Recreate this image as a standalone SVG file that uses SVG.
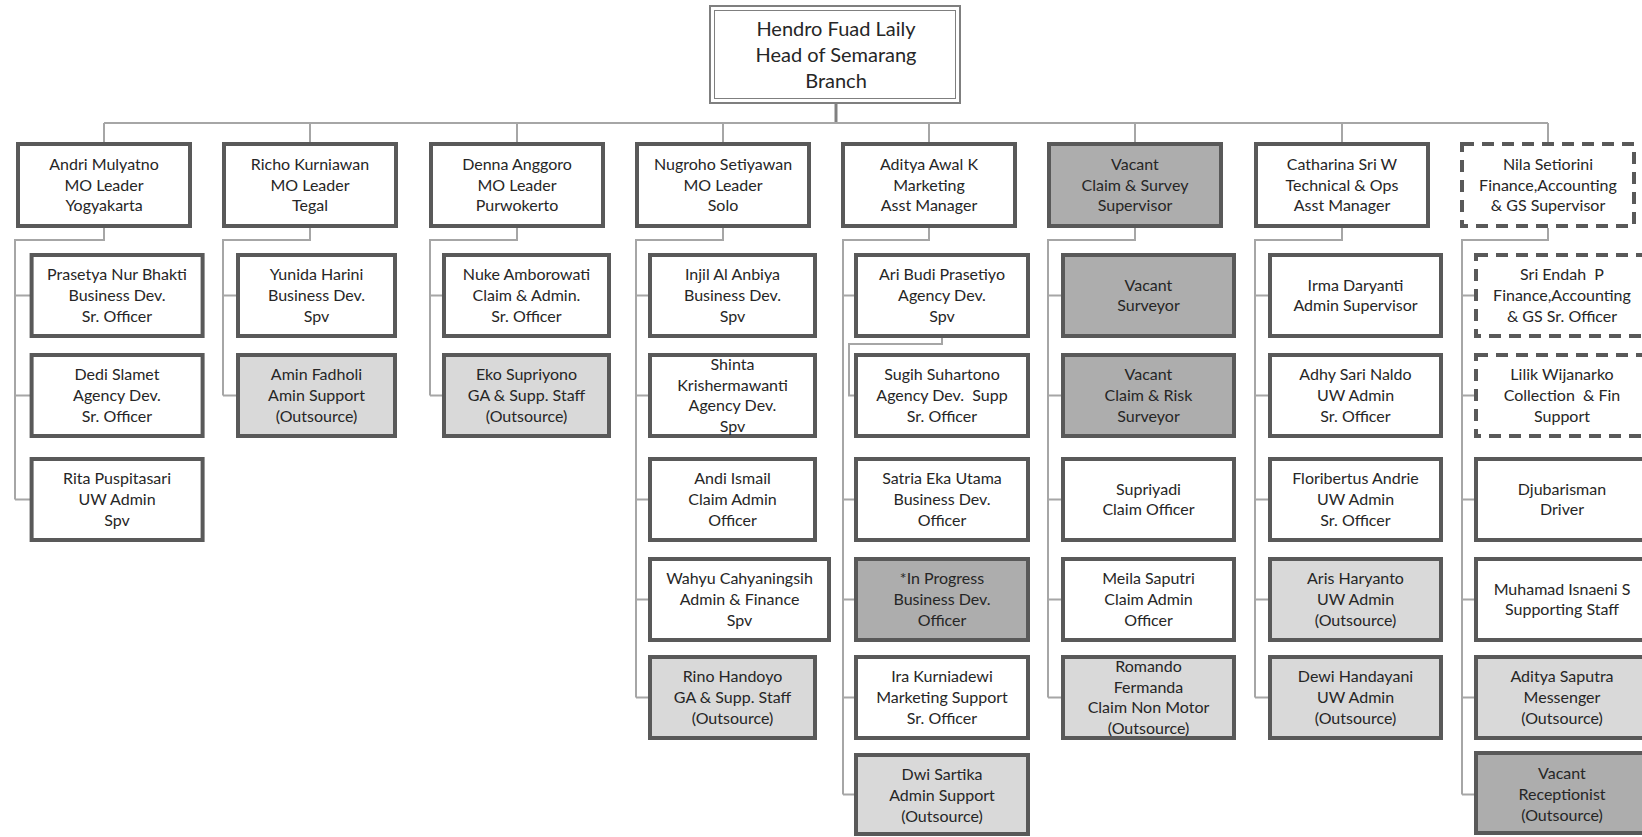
<svg xmlns="http://www.w3.org/2000/svg" width="1642" height="837" viewBox="0 0 1642 837">
<style>
.bx{fill:#ffffff;stroke:#595959;stroke-width:4}
.lt{fill:#d9d9d9;stroke:#595959;stroke-width:4}
.dk{fill:#adadad;stroke:#595959;stroke-width:4}
.ds{fill:#ffffff;stroke:#595959;stroke-width:4;stroke-dasharray:12 8}
.t{font-family:Lato,"Liberation Sans",sans-serif;font-size:16px;fill:#262626;text-anchor:middle;white-space:pre}
.h{font-family:Lato,"Liberation Sans",sans-serif;font-size:20px;fill:#262626;text-anchor:middle}
.cn{fill:none;stroke:#a6a6a6;stroke-width:2}
.st{fill:none;stroke:#808080;stroke-width:3}
</style>
<rect width="1642" height="837" fill="#ffffff"/>
<g id="connectors">
<path class="st" d="M836,104 V123"/>
<path class="cn" d="M104,123 H1548 M104,123 V142 M310,123 V142 M517,123 V142 M723,123 V142 M929,123 V142 M1135,123 V142 M1342,123 V142 M1548,123 V142"/>
<path class="cn" d="M104,228 V240 H15 V499.5 M15,295.5 H30 M15,395.5 H30 M15,499.5 H30"/>
<path class="cn" d="M310,228 V240 H223 V395.5 M223,295.5 H236 M223,395.5 H236"/>
<path class="cn" d="M517,228 V240 H430 V395.5 M430,295.5 H442 M430,395.5 H442"/>
<path class="cn" d="M723,228 V240 H636 V697.5 M636,295.5 H648 M636,395.5 H648 M636,499.5 H648 M636,599.5 H648 M636,697.5 H648"/>
<path class="cn" d="M929,228 V240 H843 V794.5 M843,295.5 H854 M843,499.5 H854 M843,599.5 H854 M843,697.5 H854 M843,794.5 H854"/>
<path class="cn" d="M942,338 V344 H849 V395.5 H854"/>
<path class="cn" d="M1135,228 V240 H1048 V697.5 M1048,295.5 H1061 M1048,395.5 H1061 M1048,499.5 H1061 M1048,599.5 H1061 M1048,697.5 H1061"/>
<path class="cn" d="M1342,228 V240 H1255 V697.5 M1255,295.5 H1268 M1255,395.5 H1268 M1255,499.5 H1268 M1255,599.5 H1268 M1255,697.5 H1268"/>
<path class="cn" d="M1548,228 V240 H1462 V794.5 M1462,295.5 H1474 M1462,395.5 H1474 M1462,499.5 H1474 M1462,599.5 H1474 M1462,697.5 H1474 M1462,794.5 H1474"/>
</g>
<g id="head">
<rect x="710" y="6" width="250" height="97" fill="#ffffff" stroke="#7f7f7f" stroke-width="2"/>
<rect x="714.5" y="10.5" width="241" height="88" fill="none" stroke="#7f7f7f" stroke-width="1"/>
<text class="h" x="836" y="36">Hendro Fuad Laily</text>
<text class="h" x="836" y="62">Head of Semarang</text>
<text class="h" x="836" y="88">Branch</text>
</g>
<g id="andri"><rect class="bx" x="18" y="144" width="172" height="82"/><text class="t" x="104" y="169.9">Andri Mulyatno</text><text class="t" x="104" y="190.5">MO Leader</text><text class="t" x="104" y="211.1">Yogyakarta</text></g>
<g id="richo"><rect class="bx" x="224" y="144" width="172" height="82"/><text class="t" x="310" y="169.9">Richo Kurniawan</text><text class="t" x="310" y="190.5">MO Leader</text><text class="t" x="310" y="211.1">Tegal</text></g>
<g id="denna"><rect class="bx" x="431" y="144" width="172" height="82"/><text class="t" x="517" y="169.9">Denna Anggoro</text><text class="t" x="517" y="190.5">MO Leader</text><text class="t" x="517" y="211.1">Purwokerto</text></g>
<g id="nugroho"><rect class="bx" x="637" y="144" width="172" height="82"/><text class="t" x="723" y="169.9">Nugroho Setiyawan</text><text class="t" x="723" y="190.5">MO Leader</text><text class="t" x="723" y="211.1">Solo</text></g>
<g id="aditya-awal"><rect class="bx" x="843" y="144" width="172" height="82"/><text class="t" x="929" y="169.9">Aditya Awal K</text><text class="t" x="929" y="190.5">Marketing</text><text class="t" x="929" y="211.1">Asst Manager</text></g>
<g id="vacant-claim-survey"><rect class="dk" x="1049" y="144" width="172" height="82"/><text class="t" x="1135" y="169.9">Vacant</text><text class="t" x="1135" y="190.5">Claim &amp; Survey</text><text class="t" x="1135" y="211.1">Supervisor</text></g>
<g id="catharina"><rect class="bx" x="1256" y="144" width="172" height="82"/><text class="t" x="1342" y="169.9">Catharina Sri W</text><text class="t" x="1342" y="190.5">Technical &amp; Ops</text><text class="t" x="1342" y="211.1">Asst Manager</text></g>
<g id="nila"><rect class="ds" x="1462" y="144" width="172" height="82"/><text class="t" x="1548" y="169.9">Nila Setiorini</text><text class="t" x="1548" y="190.5">Finance,Accounting</text><text class="t" x="1548" y="211.1">&amp; GS Supervisor</text></g>

<g id="prasetya"><rect class="bx" x="31.6" y="255" width="171" height="81"/><text class="t" x="117" y="280.4">Prasetya Nur Bhakti</text><text class="t" x="117" y="301">Business Dev.</text><text class="t" x="117" y="321.6">Sr. Officer</text></g>
<g id="dedi"><rect class="bx" x="31.6" y="355" width="171" height="81"/><text class="t" x="117" y="380.4">Dedi Slamet</text><text class="t" x="117" y="401">Agency Dev.</text><text class="t" x="117" y="421.6">Sr. Officer</text></g>
<g id="rita"><rect class="bx" x="31.6" y="459" width="171" height="81"/><text class="t" x="117" y="484.4">Rita Puspitasari</text><text class="t" x="117" y="505">UW Admin</text><text class="t" x="117" y="525.6">Spv</text></g>

<g id="yunida"><rect class="bx" x="238" y="255" width="157" height="81"/><text class="t" x="316.5" y="280.4">Yunida Harini</text><text class="t" x="316.5" y="301">Business Dev.</text><text class="t" x="316.5" y="321.6">Spv</text></g>
<g id="amin"><rect class="lt" x="238" y="355" width="157" height="81"/><text class="t" x="316.5" y="380.4">Amin Fadholi</text><text class="t" x="316.5" y="401">Amin Support</text><text class="t" x="316.5" y="421.6">(Outsource)</text></g>

<g id="nuke"><rect class="bx" x="444" y="255" width="165" height="81"/><text class="t" x="526.5" y="280.4">Nuke Amborowati</text><text class="t" x="526.5" y="301">Claim &amp; Admin.</text><text class="t" x="526.5" y="321.6">Sr. Officer</text></g>
<g id="eko"><rect class="lt" x="444" y="355" width="165" height="81"/><text class="t" x="526.5" y="380.4">Eko Supriyono</text><text class="t" x="526.5" y="401">GA &amp; Supp. Staff</text><text class="t" x="526.5" y="421.6">(Outsource)</text></g>

<g id="injil"><rect class="bx" x="650" y="255" width="165" height="81"/><text class="t" x="732.5" y="280.4">Injil Al Anbiya</text><text class="t" x="732.5" y="301">Business Dev.</text><text class="t" x="732.5" y="321.6">Spv</text></g>
<g id="shinta"><rect class="bx" x="650" y="355" width="165" height="81"/><text class="t" x="732.5" y="370.1">Shinta</text><text class="t" x="732.5" y="390.7">Krishermawanti</text><text class="t" x="732.5" y="411.3">Agency Dev.</text><text class="t" x="732.5" y="431.9">Spv</text></g>
<g id="andi"><rect class="bx" x="650" y="459" width="165" height="81"/><text class="t" x="732.5" y="484.4">Andi Ismail</text><text class="t" x="732.5" y="505">Claim Admin</text><text class="t" x="732.5" y="525.6">Officer</text></g>
<g id="wahyu"><rect class="bx" x="650" y="559" width="179" height="81"/><text class="t" x="739.5" y="584.4">Wahyu Cahyaningsih</text><text class="t" x="739.5" y="605">Admin &amp; Finance</text><text class="t" x="739.5" y="625.6">Spv</text></g>
<g id="rino"><rect class="lt" x="650" y="657" width="165" height="81"/><text class="t" x="732.5" y="682.4">Rino Handoyo</text><text class="t" x="732.5" y="703">GA &amp; Supp. Staff</text><text class="t" x="732.5" y="723.6">(Outsource)</text></g>

<g id="ari"><rect class="bx" x="856" y="255" width="172" height="81"/><text class="t" x="942" y="280.4">Ari Budi Prasetiyo</text><text class="t" x="942" y="301">Agency Dev.</text><text class="t" x="942" y="321.6">Spv</text></g>
<g id="sugih"><rect class="bx" x="856" y="355" width="172" height="81"/><text class="t" x="942" y="380.4">Sugih Suhartono</text><text class="t" x="942" y="401">Agency Dev.  Supp</text><text class="t" x="942" y="421.6">Sr. Officer</text></g>
<g id="satria"><rect class="bx" x="856" y="459" width="172" height="81"/><text class="t" x="942" y="484.4">Satria Eka Utama</text><text class="t" x="942" y="505">Business Dev.</text><text class="t" x="942" y="525.6">Officer</text></g>
<g id="in-progress"><rect class="dk" x="856" y="559" width="172" height="81"/><text class="t" x="942" y="584.4">*In Progress</text><text class="t" x="942" y="605">Business Dev.</text><text class="t" x="942" y="625.6">Officer</text></g>
<g id="ira"><rect class="bx" x="856" y="657" width="172" height="81"/><text class="t" x="942" y="682.4">Ira Kurniadewi</text><text class="t" x="942" y="703">Marketing Support</text><text class="t" x="942" y="723.6">Sr. Officer</text></g>
<g id="dwi"><rect class="lt" x="856" y="755" width="172" height="79"/><text class="t" x="942" y="780.4">Dwi Sartika</text><text class="t" x="942" y="801">Admin Support</text><text class="t" x="942" y="821.6">(Outsource)</text></g>

<g id="vacant-surveyor"><rect class="dk" x="1063" y="255" width="171" height="81"/><text class="t" x="1148.5" y="290.7">Vacant</text><text class="t" x="1148.5" y="311.3">Surveyor</text></g>
<g id="vacant-claim-risk"><rect class="dk" x="1063" y="355" width="171" height="81"/><text class="t" x="1148.5" y="380.4">Vacant</text><text class="t" x="1148.5" y="401">Claim &amp; Risk</text><text class="t" x="1148.5" y="421.6">Surveyor</text></g>
<g id="supriyadi"><rect class="bx" x="1063" y="459" width="171" height="81"/><text class="t" x="1148.5" y="494.7">Supriyadi</text><text class="t" x="1148.5" y="515.3">Claim Officer</text></g>
<g id="meila"><rect class="bx" x="1063" y="559" width="171" height="81"/><text class="t" x="1148.5" y="584.4">Meila Saputri</text><text class="t" x="1148.5" y="605">Claim Admin</text><text class="t" x="1148.5" y="625.6">Officer</text></g>
<g id="romando"><rect class="lt" x="1063" y="657" width="171" height="81"/><text class="t" x="1148.5" y="672.1">Romando</text><text class="t" x="1148.5" y="692.7">Fermanda</text><text class="t" x="1148.5" y="713.3">Claim Non Motor</text><text class="t" x="1148.5" y="733.9">(Outsource)</text></g>

<g id="irma"><rect class="bx" x="1270" y="255" width="171" height="81"/><text class="t" x="1355.5" y="290.7">Irma Daryanti</text><text class="t" x="1355.5" y="311.3">Admin Supervisor</text></g>
<g id="adhy"><rect class="bx" x="1270" y="355" width="171" height="81"/><text class="t" x="1355.5" y="380.4">Adhy Sari Naldo</text><text class="t" x="1355.5" y="401">UW Admin</text><text class="t" x="1355.5" y="421.6">Sr. Officer</text></g>
<g id="floribertus"><rect class="bx" x="1270" y="459" width="171" height="81"/><text class="t" x="1355.5" y="484.4">Floribertus Andrie</text><text class="t" x="1355.5" y="505">UW Admin</text><text class="t" x="1355.5" y="525.6">Sr. Officer</text></g>
<g id="aris"><rect class="lt" x="1270" y="559" width="171" height="81"/><text class="t" x="1355.5" y="584.4">Aris Haryanto</text><text class="t" x="1355.5" y="605">UW Admin</text><text class="t" x="1355.5" y="625.6">(Outsource)</text></g>
<g id="dewi"><rect class="lt" x="1270" y="657" width="171" height="81"/><text class="t" x="1355.5" y="682.4">Dewi Handayani</text><text class="t" x="1355.5" y="703">UW Admin</text><text class="t" x="1355.5" y="723.6">(Outsource)</text></g>

<g id="sri-endah"><rect class="ds" x="1476" y="255" width="172" height="81"/><text class="t" x="1562" y="280.4">Sri Endah  P</text><text class="t" x="1562" y="301">Finance,Accounting</text><text class="t" x="1562" y="321.6">&amp; GS Sr. Officer</text></g>
<g id="lilik"><rect class="ds" x="1476" y="355" width="172" height="81"/><text class="t" x="1562" y="380.4">Lilik Wijanarko</text><text class="t" x="1562" y="401">Collection  &amp; Fin</text><text class="t" x="1562" y="421.6">Support</text></g>
<g id="djubarisman"><rect class="bx" x="1476" y="459" width="172" height="81"/><text class="t" x="1562" y="494.7">Djubarisman</text><text class="t" x="1562" y="515.3">Driver</text></g>
<g id="muhamad"><rect class="bx" x="1476" y="559" width="172" height="81"/><text class="t" x="1562" y="594.7">Muhamad Isnaeni S</text><text class="t" x="1562" y="615.3">Supporting Staff</text></g>
<g id="aditya-saputra"><rect class="lt" x="1476" y="657" width="172" height="81"/><text class="t" x="1562" y="682.4">Aditya Saputra</text><text class="t" x="1562" y="703">Messenger</text><text class="t" x="1562" y="723.6">(Outsource)</text></g>
<g id="vacant-receptionist"><rect class="dk" x="1476" y="753" width="172" height="80"/><text class="t" x="1562" y="779.4">Vacant</text><text class="t" x="1562" y="800">Receptionist</text><text class="t" x="1562" y="820.6">(Outsource)</text></g>
</svg>
